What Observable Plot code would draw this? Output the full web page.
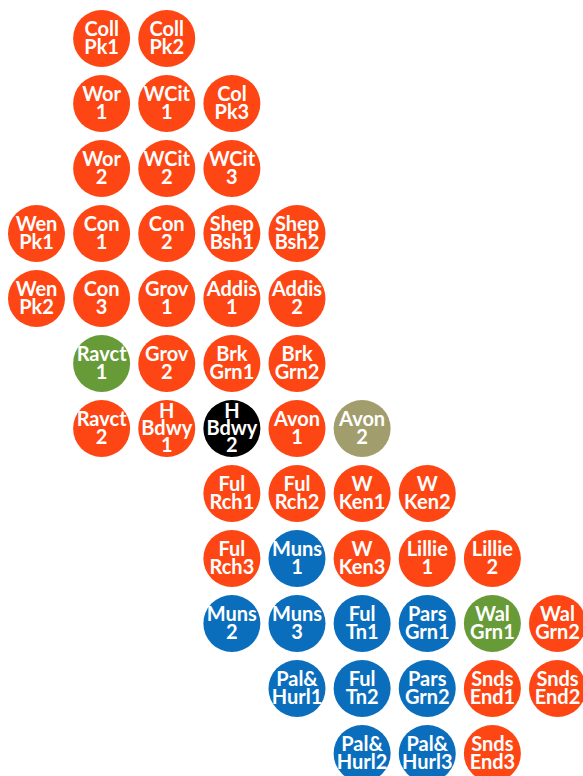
<!DOCTYPE html>
<html>
<head>
<meta charset="utf-8">
<script src="https://cdn.jsdelivr.net/npm/d3@7"></script>
<script src="https://cdn.jsdelivr.net/npm/@observablehq/plot@0.6"></script>
<style>
  html, body { margin: 0; padding: 0; background: #fff; }
  #chart svg { display: block; }
</style>
</head>
<body>
<div id="chart"></div>
<script>
const labels = [
  "Coll\nPk1", "Coll\nPk2",
  "Wor\n1", "WCit\n1", "Col\nPk3",
  "Wor\n2", "WCit\n2", "WCit\n3",
  "Wen\nPk1", "Con\n1", "Con\n2", "Shep\nBsh1", "Shep\nBsh2",
  "Wen\nPk2", "Con\n3", "Grov\n1", "Addis\n1", "Addis\n2",
  "Ravct\n1", "Grov\n2", "Brk\nGrn1", "Brk\nGrn2",
  "Ravct\n2", "H\nBdwy\n1", "H\nBdwy\n2", "Avon\n1", "Avon\n2",
  "Ful\nRch1", "Ful\nRch2", "W\nKen1", "W\nKen2",
  "Ful\nRch3", "Muns\n1", "W\nKen3", "Lillie\n1", "Lillie\n2",
  "Muns\n2", "Muns\n3", "Ful\nTn1", "Pars\nGrn1", "Wal\nGrn1", "Wal\nGrn2",
  "Pal&\nHurl1", "Ful\nTn2", "Pars\nGrn2", "Snds\nEnd1", "Snds\nEnd2",
  "Pal&\nHurl2", "Pal&\nHurl3", "Snds\nEnd3"
];
const rows = [
  0, 0,
  1, 1, 1,
  2, 2, 2,
  3, 3, 3, 3, 3,
  4, 4, 4, 4, 4,
  5, 5, 5, 5,
  6, 6, 6, 6, 6,
  7, 7, 7, 7,
  8, 8, 8, 8, 8,
  9, 9, 9, 9, 9, 9,
  10, 10, 10, 10, 10,
  11, 11, 11
];
const cols = [
  1, 2,
  1, 2, 3,
  1, 2, 3,
  0, 1, 2, 3, 4,
  0, 1, 2, 3, 4,
  1, 2, 3, 4,
  1, 2, 3, 4, 5,
  3, 4, 5, 6,
  3, 4, 5, 6, 7,
  3, 4, 5, 6, 7, 8,
  4, 5, 6, 7, 8,
  5, 6, 7
];
const groups = [
  "A", "A",
  "A", "A", "A",
  "A", "A", "A",
  "A", "A", "A", "A", "A",
  "A", "A", "A", "A", "A",
  "G", "A", "A", "A",
  "A", "A", "K", "A", "O",
  "A", "A", "A", "A",
  "A", "B", "A", "A", "A",
  "B", "B", "B", "B", "G", "A",
  "B", "B", "B", "A", "A",
  "B", "B", "A"
];
const groupDomain = ["A", "B", "G", "K", "O"];
const groupColors = ["#fd4614", "#0a6ebd", "#679b37", "#000000", "#a29d6d"];

const data = labels.map((label, i) => ({label, row: rows[i], col: cols[i], group: groups[i]}));

const chart = Plot.plot({
  width: 583,
  height: 776,
  margin: 0,
  x: {domain: [0, 8], range: [36, 557], axis: null},
  y: {domain: [0, 11], range: [38, 753], axis: null},
  color: {domain: groupDomain, range: groupColors},
  style: {background: "#fff"},
  marks: [
    Plot.dot(data, {x: "col", y: "row", r: 28.5, fill: "group", stroke: "none"}),
    Plot.text(data, {
      x: "col", y: "row", dy: 1, text: "label",
      fill: "#fff",
      fontFamily: "Lato",
      fontWeight: "bold",
      fontSize: 20,
      lineHeight: 0.87,
      textAnchor: "middle",
      lineAnchor: "middle"
    })
  ]
});
document.getElementById("chart").appendChild(chart);
</script>
</body>
</html>
